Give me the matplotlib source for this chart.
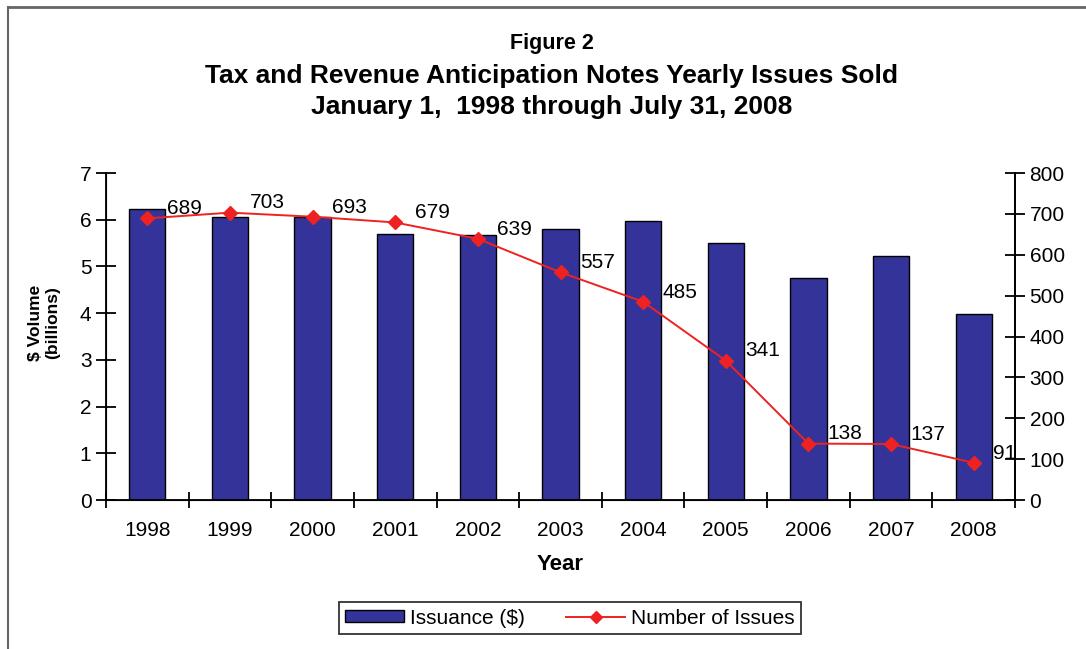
import numpy as np
import matplotlib
matplotlib.use("Agg")
import matplotlib.pyplot as plt
from matplotlib.lines import Line2D
from matplotlib.patches import Patch

plt.rcParams["font.family"] = ["Liberation Sans", "DejaVu Sans"]

years = ["1998", "1999", "2000", "2001", "2002", "2003",
         "2004", "2005", "2006", "2007", "2008"]
issuance = [6.22, 6.06, 6.06, 5.70, 5.67, 5.80, 5.97, 5.50, 4.75, 5.22, 3.98]
num_issues = [689, 703, 693, 679, 639, 557, 485, 341, 138, 137, 91]

BAR_COLOR = "#333399"
LINE_COLOR = "#ee2222"

fig = plt.figure(figsize=(10.86, 6.49), dpi=100)
fig.patch.set_facecolor("white")

# outer frame (top and left edges only, as in the source)
fig.add_artist(Line2D([8 / 1086, 1.0], [1 - 7 / 649, 1 - 7 / 649],
                      transform=fig.transFigure, color="#666666", lw=2))
fig.add_artist(Line2D([8 / 1086, 8 / 1086], [0, 1 - 7 / 649],
                      transform=fig.transFigure, color="#666666", lw=1.5))

ax = fig.add_axes([106 / 1086, 149 / 649, 909 / 1086, 327 / 649])
x = np.arange(len(years))
ax.bar(x, issuance, width=0.44, color=BAR_COLOR, edgecolor="black",
       linewidth=1.0, zorder=2)
ax.set_xlim(-0.5, len(years) - 0.5)
ax.set_ylim(0, 7)
ax.set_yticks(range(0, 8))
ax.spines["top"].set_visible(False)
for s in ("left", "bottom", "right"):
    ax.spines[s].set_linewidth(1.3)
ax.set_xticks(x)
ax.set_xticklabels(years, fontsize=15)
ax.set_xticks(np.arange(-0.5, len(years) + 0.5, 1.0), minor=True)
ax.tick_params(axis="x", which="major", length=0, pad=15)
ax.tick_params(axis="x", which="minor", direction="inout", length=12, width=1.3)
ax.tick_params(axis="y", direction="inout", length=15, width=1.3,
               labelsize=15, pad=3)
ax.set_xlabel("Year", fontsize=16, fontweight="bold", labelpad=10)

fig.text(44 / 1086, 1 - 323 / 649, "$ Volume\n(billions)", rotation=90,
         ha="center", va="center", fontsize=12.5, fontweight="bold",
         linespacing=1.15, multialignment="center")

ax2 = ax.twinx()
ax2.plot(x, num_issues, color=LINE_COLOR, lw=1.4, marker="D",
         markersize=7.5, markeredgecolor=LINE_COLOR, zorder=3)
ax2.set_ylim(0, 800)
ax2.set_yticks(range(0, 900, 100))
ax2.spines["top"].set_visible(False)
ax2.spines["right"].set_linewidth(1.3)
ax2.tick_params(axis="y", direction="inout", length=15, width=1.3,
                labelsize=15, pad=3)
for xi, v in zip(x, num_issues):
    ax2.annotate(str(v), (xi, v), xytext=(14, 7), textcoords="offset points",
                 ha="left", va="center", fontsize=15, zorder=4)

fig.text(0.508, 1 - 44 / 649, "Figure 2", ha="center", va="center",
         fontsize=15.5, fontweight="bold")
fig.text(0.508, 1 - 76 / 649,
         "Tax and Revenue Anticipation Notes Yearly Issues Sold",
         ha="center", va="center", fontsize=19, fontweight="bold")
fig.text(0.508, 1 - 107 / 649, "January 1,  1998 through July 31, 2008",
         ha="center", va="center", fontsize=19, fontweight="bold")

handles = [Patch(facecolor=BAR_COLOR, edgecolor="black", linewidth=1.0),
           Line2D([], [], color=LINE_COLOR, lw=1.4, marker="D", markersize=6)]
leg = fig.legend(handles, ["Issuance ($)", "Number of Issues"],
                 loc="center", bbox_to_anchor=(570 / 1086, 1 - 618 / 649),
                 ncol=2, fontsize=15, frameon=True, fancybox=False,
                 edgecolor="black", handlelength=2.8, handleheight=0.55,
                 columnspacing=2.0, handletextpad=0.3, borderpad=0.3)
leg.get_frame().set_linewidth(1.3)

fig.savefig("out.png", dpi=100, facecolor="white")
